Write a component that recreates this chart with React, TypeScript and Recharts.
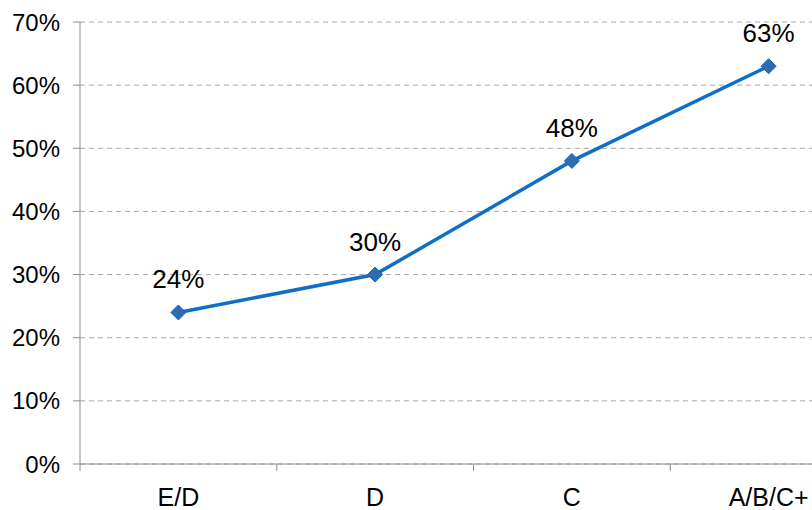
import { LineChart, Line, XAxis, YAxis, CartesianGrid, LabelList } from 'recharts';

const categories = ['E/D', 'D', 'C', 'A/B/C+'];
const shares = [24, 30, 48, 63];
const yTicks = [0, 10, 20, 30, 40, 50, 60, 70];

const data = categories.map((segment, i) => ({ segment, share: shares[i] }));

const FONT = '"Liberation Sans", Arial, sans-serif';
const AXIS = '#8c8c8c';
const BLUE = '#0f6fc6';

// diamond marker centred on the point
const Diamond = (props: any) => {
  const { cx, cy } = props;
  if (cx == null || cy == null) return null;
  const r = 7.5;
  return (
    <polygon
      points={`${cx},${cy - r} ${cx + r},${cy} ${cx},${cy + r} ${cx - r},${cy}`}
      fill="#2b6cb3"
      stroke="#1a64b8"
      strokeWidth={1}
    />
  );
};

// category label plus a tick mark on the left edge of its band
const SegmentTick = (props: any) => {
  const { x, y, payload } = props;
  const half = payload?.offset ?? 0;
  return (
    <g>
      <line x1={x - half} x2={x - half} y1={y} y2={y + 7} stroke={AXIS} />
      <text x={x} y={y + 42} textAnchor="middle" fill="#000" fontSize={25} fontFamily={FONT}>
        {payload.value}
      </text>
    </g>
  );
};

export default function App() {
  return (
    <div
      style={{
        position: 'absolute',
        left: 0,
        top: 0,
        width: 812,
        height: 510,
        overflow: 'hidden',
        background: '#fff',
        fontFamily: FONT,
      }}
    >
      <LineChart
        width={880}
        height={510}
        data={data}
        margin={{ top: 22, right: 13, bottom: 0, left: 0 }}
      >
        <CartesianGrid vertical={false} stroke="#a6a6a6" strokeDasharray="5 4" />
        <XAxis
          dataKey="segment"
          scale="band"
          height={46}
          axisLine={{ stroke: AXIS }}
          tickLine={false}
          tickSize={0}
          tickMargin={0}
          interval={0}
          tick={<SegmentTick />}
        />
        <YAxis
          width={80}
          domain={[0, 70]}
          ticks={yTicks}
          tickFormatter={(v) => `${v}%`}
          tickSize={7}
          tickMargin={13}
          axisLine={{ stroke: AXIS }}
          tickLine={{ stroke: AXIS }}
          tick={{ fill: '#000', fontSize: 24, fontFamily: FONT }}
        />
        <Line
          type="linear"
          dataKey="share"
          stroke={BLUE}
          strokeWidth={3.5}
          dot={<Diamond />}
          activeDot={false}
          isAnimationActive={false}
        >
          <LabelList
            dataKey="share"
            position="top"
            offset={24}
            formatter={(v: any) => `${v}%`}
            fill="#000"
            fontSize={26}
            fontFamily={FONT}
          />
        </Line>
      </LineChart>
    </div>
  );
}
